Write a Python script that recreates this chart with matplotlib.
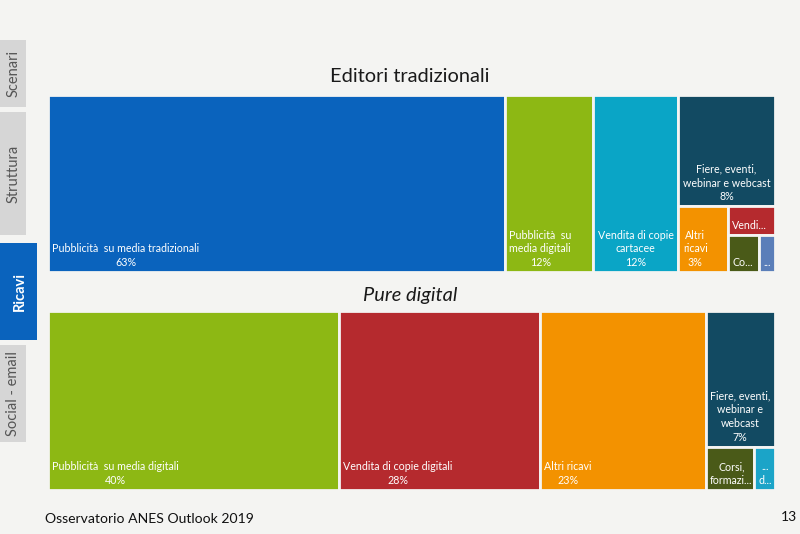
import matplotlib
matplotlib.use("Agg")
import matplotlib.pyplot as plt
from matplotlib.patches import Rectangle

# ---------------- data ----------------
title_top = "Editori tradizionali"
title_bottom = "Pure digital"

top_labels = [
    "Pubblicità  su media tradizionali\n63%",
    "Pubblicità  su\nmedia digitali\n12%",
    "Vendita di copie\ncartacee\n12%",
    "Fiere, eventi,\nwebinar e webcast\n8%",
    "Altri\nricavi\n3%",
    "Vendi...",
    "Co...",
    "...",
]
top_values = [62.3, 12.1, 11.6, 8.3, 2.5, 1.05, 0.9, 0.45]
top_colors = ["#0A63BD", "#8DB814", "#0AA5C6", "#124A62",
              "#F39200", "#B52A2E", "#4A5A18", "#5A7EB9"]

bottom_labels = [
    "Pubblicità  su media digitali\n40%",
    "Vendita di copie digitali\n28%",
    "Altri ricavi\n23%",
    "Fiere, eventi,\nwebinar e\nwebcast\n7%",
    "Corsi,\nformazi...",
    "...\nd...",
]
bottom_values = [39.8, 27.5, 22.7, 7.2, 1.6, 0.7]
bottom_colors = ["#8DB814", "#B52A2E", "#F39200", "#124A62",
                 "#4A5A18", "#1BA4C8"]

tabs = ["Scenari", "Struttura", "Ricavi", "Social - email"]
active_tab = "Ricavi"
footer = "Osservatorio ANES Outlook 2019"
page = "13"

BG = "#F4F4F2"
FONT = "Lato"

W_PX, H_PX = 800, 534
fig = plt.figure(figsize=(8, 5.34), dpi=100, facecolor=BG)

# background overlay axes in pixel coordinates
bg = fig.add_axes([0, 0, 1, 1])
bg.set_xlim(0, W_PX)
bg.set_ylim(H_PX, 0)
bg.axis("off")
bg.set_facecolor(BG)

# sidebar tabs
tab_spans = [(40, 107), (112, 235), (243, 340), (345, 442)]
for name, (y0, y1) in zip(tabs, tab_spans):
    active = name == active_tab
    w = 37 if active else 26
    bg.add_patch(Rectangle((0, y0), w, y1 - y0,
                           facecolor="#0A63BD" if active else "#D6D6D6",
                           edgecolor="none"))
    bg.text(w / 2 + (1 if active else 0.5), (y0 + y1) / 2, name, rotation=90,
            ha="center", va="center",
            fontsize=10.5, family=FONT,
            color="white" if active else "#555555",
            fontweight="bold" if active else "normal")

bg.text(410, 77, title_top, ha="center", va="center", fontsize=14.4,
        family=FONT, color="#1A1A1A")
bg.text(410, 296, title_bottom, ha="center", va="center", fontsize=14.4,
        family=FONT, style="italic", color="#1A1A1A")
bg.text(45, 519, footer, ha="left", va="center", fontsize=10.1,
        family=FONT, color="#111111")
bg.text(797, 517, page, ha="right", va="center", fontsize=10,
        family=FONT, color="#111111")


def layout(values, w, h):
    """Each item takes a slice along the longer side of the remaining rect."""
    rects = []
    x, y = 0.0, 0.0
    remaining = float(sum(values))
    for i, v in enumerate(values):
        if i == len(values) - 1:
            rects.append((x, y, w, h))
            break
        frac = v / remaining
        if w >= h:
            cw = w * frac
            rects.append((x, y, cw, h))
            x += cw
            w -= cw
        else:
            ch = h * frac
            rects.append((x, y, w, ch))
            y += ch
            h -= ch
        remaining -= v
    return rects


def treemap(box_px, values, labels, colors):
    x0, y0, x1, y1 = box_px
    w, h = x1 - x0, y1 - y0
    ax = fig.add_axes([x0 / W_PX, 1 - y1 / H_PX, w / W_PX, h / H_PX])
    ax.set_xlim(0, w)
    ax.set_ylim(h, 0)
    ax.axis("off")
    for (rx, ry, rw, rh), lab, col in zip(layout(values, w, h), labels, colors):
        ax.add_patch(Rectangle((rx, ry), rw, rh, facecolor=col,
                               edgecolor=BG, linewidth=2.0))
        ax.text(rx + 4.5, ry + rh - 4, lab, ha="left", va="bottom",
                multialignment="center", fontsize=7.7, family=FONT,
                color="white", linespacing=1.3)


treemap((48, 95, 775, 272), top_values, top_labels, top_colors)
treemap((48, 311, 775, 490), bottom_values, bottom_labels, bottom_colors)

fig.savefig("out.png", dpi=100, facecolor=BG)
